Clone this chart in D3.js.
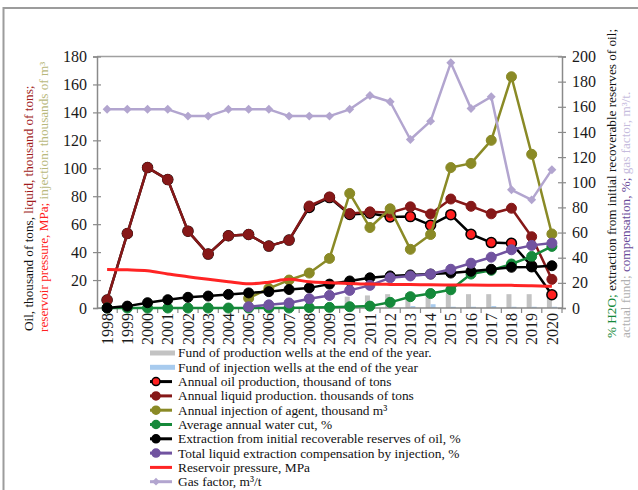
<!DOCTYPE html>
<html>
<head>
<meta charset="utf-8">
<script src="https://cdn.jsdelivr.net/npm/d3@7/dist/d3.min.js"></script>
<style>
  html, body { margin: 0; padding: 0; background: #fff; }
  svg { display: block; font-family: "Liberation Serif", "Times New Roman", serif; }
</style>
</head>
<body>
<svg id="chart" width="638" height="490"></svg>
<script>
// Field development indicators, 1998–2020
const years = ["1998","1999","2000","2001","2002","2003","2004","2005","2006","2007","2008",
  "2009","2010","2011","2012","2013","2014","2015","2016","2017","2018","2019","2020"];

// left axis: thousand tons / MPa / thousand m3
const oilProduction    = [5.7, 53.3, 100.5, 91.9, 55, 38.6, 51.7, 52.6, 44.3, 48.6, 72, 79,
  66.9, 67.8, 65.2, 65.4, 59.3, 66.8, 52.8, 46.8, 46.3, 30, 9.5];
const liquidProduction = [5.7, 53.3, 100.5, 91.9, 55, 38.6, 51.7, 52.6, 44.3, 48.6, 73, 79.5,
  67.6, 68.8, 68.2, 72.4, 67.3, 78, 72.8, 67.4, 71.4, 51, 20.5];
const agentInjection   = [null, null, null, null, null, null, null, 7, 14, 20, 25, 35.5,
  82, 57.6, 71, 42, 52.6, 100.5, 103.5, 120, 165.5, 110, 53];
const reservoirPressure = [27.6, 27.3, 26.7, 24.3, 22.4, 20.5, 18.8, 17.3, 18.5, 20.5, 18.8, 18.1,
  17.6, 17.1, 16.9, 16.8, 16.6, 16.5, 16.4, 16.3, 16.2, 16, 15.5];

// right axis: %, wells, m3/t
const waterCut     = [0, 0, 0, 0, 0, 0, 0, 0, 0, 0, 0.3, 0.5, 1, 1.5, 4.5, 9, 11.5, 14.5, 27, 30, 35, 41, 49];
const recoveryRate = [0, 1.5, 4.2, 6.6, 8.5, 9.5, 10.8, 12, 13, 14.7, 16, 19, 21.5, 24, 25.5, 26.3,
  27, 27.8, 29.2, 30.8, 32.4, 32.6, 33.6];
const compensation = [null, null, null, null, null, null, null, 1, 2.5, 4, 7.4, 10, 14, 18, 24,
  25.5, 27, 30.8, 35.6, 40.4, 46.3, 49.8, 51.6];
const gasFactor    = [158, 158, 158, 158, 152.6, 152.6, 158, 158, 158, 152.6, 152.6, 152.6, 158,
  169, 164, 134, 148.6, 195, 158.6, 168, 94, 86, 110];
const productionWells = [0, 0, 0, 0, 0, 0, 0, 0, 0, 0, 0, 0, 9, 10, 11, 12, 11, 12, 11, 11, 11, 11, 11];
const injectionWells  = [0, 0, 0, 0, 0, 0, 0, 0, 0, 0, 0, 0, 0, 0, 0, 1.5, 3, 1, 1, 1.5, 1, 1, 1];

const leftTicks  = [0, 20, 40, 60, 80, 100, 120, 140, 160, 180];
const rightTicks = [0, 20, 40, 60, 80, 100, 120, 140, 160, 180, 200];

const legendItems = [
  "Fund of production wells at the end of the year.",
  "Fund of injection wells at the end of the year",
  "Annual oil production, thousand of tons",
  "Annual liquid production. thousands of tons",
  "Annual injection of agent, thousand m³",
  "Average annual water cut, %",
  "Extraction from initial recoverable reserves of oil, %",
  "Total liquid extraction compensation by injection, %",
  "Reservoir pressure, MPa",
  "Gas factor, m³/t"
];

const C = {
  prodWells: "#c3c3c3",
  injWells: "#a8cbee",
  oil: "#ff2020",
  liquid: "#861818",
  injection: "#8a8a26",
  water: "#15893a",
  recovery: "#000000",
  comp: "#7153a0",
  pressure: "#ff2424",
  gas: "#b2a5cf",
  axis: "#8a8a8a"
};

const svg = d3.select("#chart");
const X0 = 97, X1 = 562, Y0 = 308, Y1 = 56.5;

svg.append("rect").attr("x", 3.5).attr("y", 8).attr("width", 700).attr("height", 600)
  .attr("fill", "none").attr("stroke", "#9c9c9c").attr("stroke-width", 2);

const x = d3.scaleBand().domain(years).range([X0, X1]).padding(0);
const bw = x.bandwidth();
const cx = i => x(years[i]) + bw / 2;
const yL = d3.scaleLinear().domain([0, 180]).range([Y0, Y1]);
const yR = d3.scaleLinear().domain([0, 200]).range([Y0, Y1]);
const xSub = d3.scaleBand().domain(["prod", "inj"]).range([bw / 2 - 5, bw / 2 + 5]);

// frame top
svg.append("line").attr("x1", X0).attr("x2", X1).attr("y1", Y1).attr("y2", Y1)
  .attr("stroke", "#a0a0a0").attr("stroke-width", 1.5);

// well-fund bars
const bars = svg.append("g");
bars.selectAll("rect.p").data(productionWells).join("rect")
  .attr("x", (d, i) => x(years[i]) + xSub("prod")).attr("width", xSub.bandwidth())
  .attr("y", d => yR(d)).attr("height", d => Y0 - yR(d)).attr("fill", C.prodWells);
bars.selectAll("rect.i").data(injectionWells).join("rect")
  .attr("x", (d, i) => x(years[i]) + xSub("inj")).attr("width", xSub.bandwidth())
  .attr("y", d => yR(d)).attr("height", d => Y0 - yR(d)).attr("fill", C.injWells);

// axes
const axL = svg.append("g").attr("transform", `translate(${X0},0)`)
  .call(d3.axisLeft(yL).tickValues(leftTicks).tickSize(4).tickPadding(6));
axL.selectAll(".tick line").attr("x1", 4);
const axR = svg.append("g").attr("transform", `translate(${X1},0)`)
  .call(d3.axisRight(yR).tickValues(rightTicks).tickSize(4).tickPadding(6));
axR.selectAll(".tick line").attr("x1", -4);
const axB = svg.append("g").attr("transform", `translate(0,${Y0})`)
  .call(d3.axisBottom(x).tickSize(0).tickPadding(5));
axB.selectAll(".tick text")
  .attr("transform", "rotate(-90)").attr("text-anchor", "end")
  .attr("x", -5).attr("y", 0).attr("dy", "0.35em");
[axL, axR, axB].forEach(a => {
  a.select(".domain").attr("stroke", C.axis).attr("stroke-width", 1.5);
  a.selectAll(".tick line").attr("stroke", C.axis).attr("stroke-width", 1.2);
  a.selectAll(".tick text").attr("font-family", "Liberation Serif").attr("font-size", 16).attr("fill", "#1a1a1a");
});
axB.select(".domain").attr("d", `M${X0},0H${X1}`);
// category boundary ticks
svg.append("g").selectAll("line").data(years).join("line")
  .attr("x1", d => x(d) + bw).attr("x2", d => x(d) + bw)
  .attr("y1", Y0).attr("y2", Y0 + 5).attr("stroke", C.axis).attr("stroke-width", 1.2);

function series(values, scale, color, opts = {}) {
  const g = svg.append("g");
  const line = d3.line().defined(d => d != null)
    .x((d, i) => cx(i)).y(d => scale(d));
  if (opts.curve) line.curve(opts.curve);
  g.append("path").datum(values).attr("d", line).attr("fill", "none")
    .attr("stroke", opts.lineColor || color).attr("stroke-width", opts.width || 2.5)
    .attr("stroke-linejoin", "round");
  if (opts.marker === "circle") {
    g.selectAll("circle").data(values.map((v, i) => [v, i]).filter(p => p[0] != null)).join("circle")
      .attr("cx", p => cx(p[1])).attr("cy", p => scale(p[0])).attr("r", opts.r || 5)
      .attr("fill", color).attr("stroke", opts.stroke || color).attr("stroke-width", opts.sw || 1);
  } else if (opts.marker === "diamond") {
    const sym = d3.symbol(d3.symbolSquare, 40);
    g.selectAll("path.m").data(values.map((v, i) => [v, i]).filter(p => p[0] != null)).join("path")
      .attr("d", sym).attr("fill", color)
      .attr("transform", p => `translate(${cx(p[1])},${scale(p[0])}) rotate(45)`);
  }
}

series(oilProduction, yL, C.oil, { marker: "circle", lineColor: "#000", stroke: "#000", sw: 1.5 });
series(liquidProduction, yL, C.liquid, { marker: "circle" });
series(agentInjection, yL, C.injection, { marker: "circle" });
series(waterCut, yR, C.water, { marker: "circle" });
series(recoveryRate, yR, C.recovery, { marker: "circle" });
series(compensation, yR, C.comp, { marker: "circle" });
series(reservoirPressure, yL, C.pressure, { width: 3, curve: d3.curveMonotoneX });
series(gasFactor, yR, C.gas, { marker: "diamond", width: 2.5 });

// axis titles
function vtitle(xb, y0, parts) {
  const t = svg.append("text").attr("transform", `translate(${xb},${y0}) rotate(-90)`)
    .attr("font-size", 13.2).attr("font-family", "Liberation Serif");
  parts.forEach(([s, c]) => t.append("tspan").text(s).attr("fill", c));
}
vtitle(33, 331, [["Oil, thousand of tons, ", "#111"], ["liquid, thousand of tons;", "#a01a1a"]]);
vtitle(48, 332, [["reservoir pressure, MPa; ", "#ff2020"], ["injection: thousands of m³", "#b8b87c"]]);
vtitle(616, 338, [["% H2O; ", C.water], ["extraction from initial recoverable reserves of oil;", "#111"]]);
vtitle(630, 338, [["actual fund; ", "#b0b0b0"], ["compensation, %; ", "#6a4b9a"], ["gas factor, m³/t.", "#c6bcdd"]]);

// legend
const lg = svg.append("g").attr("font-size", 13.4).attr("font-family", "Liberation Serif");
const styles = [
  { bar: C.prodWells }, { bar: C.injWells },
  { line: "#000", fill: C.oil, stroke: "#000" }, { line: C.liquid, fill: C.liquid },
  { line: C.injection, fill: C.injection }, { line: C.water, fill: C.water },
  { line: "#000", fill: "#000" }, { line: C.comp, fill: C.comp },
  { line: C.pressure }, { line: C.gas, diamond: true }
];
legendItems.forEach((label, i) => {
  const y = 353 + i * 14.3;
  const s = styles[i];
  const g = lg.append("g").attr("transform", `translate(0,${y})`);
  if (s.bar) {
    g.append("rect").attr("x", 150).attr("y", -2.5).attr("width", 25).attr("height", 5).attr("fill", s.bar);
  } else {
    g.append("line").attr("x1", 150).attr("x2", 172).attr("y1", 0).attr("y2", 0)
      .attr("stroke", s.line).attr("stroke-width", 3);
    if (s.diamond) {
      g.append("path").attr("d", d3.symbol(d3.symbolSquare, 30)).attr("fill", s.line)
        .attr("transform", "translate(156,0) rotate(45)");
    } else if (s.fill) {
      g.append("circle").attr("cx", 156).attr("cy", 0).attr("r", 4)
        .attr("fill", s.fill).attr("stroke", s.stroke || s.fill).attr("stroke-width", 1.5);
    }
  }
  g.append("text").attr("x", 178).attr("y", 0).attr("dy", "0.33em").attr("fill", "#111").text(label);
});
</script>
</body>
</html>
